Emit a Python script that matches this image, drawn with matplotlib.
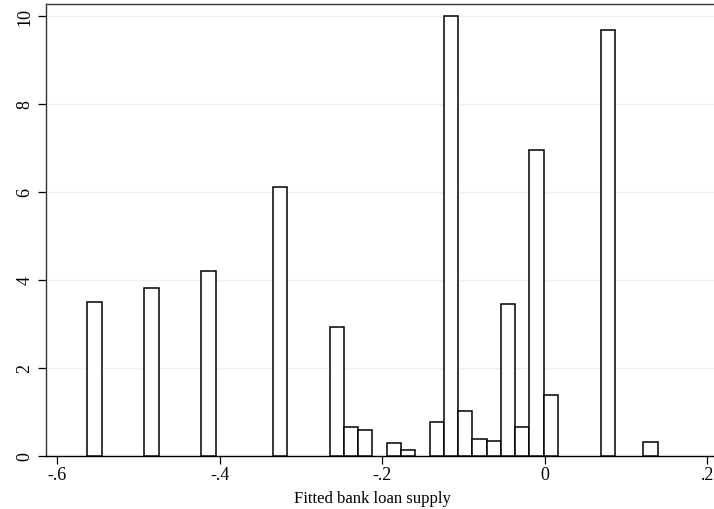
import matplotlib
matplotlib.use("Agg")
import matplotlib.pyplot as plt

# histogram of fitted bank loan supply (non-empty bins only)
bin_width = 0.01755
bin_centers = [-0.5545, -0.4843, -0.4141, -0.3264, -0.2562, -0.2386, -0.2211,
               -0.1860, -0.1684, -0.1333, -0.1158, -0.0982, -0.0807, -0.0631,
               -0.0456, -0.0280, -0.0105, 0.0071, 0.0773, 0.1299]
density = [3.49, 3.81, 4.19, 6.11, 2.93, 0.65, 0.58,
           0.30, 0.13, 0.77, 10.0, 1.02, 0.37, 0.33,
           3.45, 0.65, 6.95, 1.39, 9.675, 0.31]

xticks = [-0.6, -0.4, -0.2, 0, 0.2]
xtick_labels = ["-.6", "-.4", "-.2", "0", ".2"]
yticks = [0, 2, 4, 6, 8, 10]

plt.rcParams['font.family'] = ['Liberation Serif', 'DejaVu Serif']

fig = plt.figure(figsize=(7.14, 5.10), dpi=100)
ax = fig.add_axes([0.064, 0.1045, 0.936, 0.8863])

ax.bar(bin_centers, density, width=bin_width, color="white",
       edgecolor="black", linewidth=1.1, zorder=3)

ax.set_xlim(-0.6145, 0.208)
ax.set_ylim(0, 10.27)
ax.set_xticks(xticks)
ax.set_xticklabels(xtick_labels)
ax.set_yticks(yticks)
ax.set_yticklabels([str(v) for v in yticks], rotation=90, va="center")
ax.tick_params(axis="both", labelsize=13, length=5.5, width=0.9, direction="out")
ax.tick_params(axis="y", pad=3.5)
ax.tick_params(axis="x", pad=2)

ax.grid(axis="y", color="#eaf2f3", linewidth=1.0, zorder=0)
ax.set_axisbelow(True)
for s in ["left", "top", "bottom"]:
    ax.spines[s].set_linewidth(1.0)
    ax.spines[s].set_color("#333333")
ax.spines["right"].set_visible(False)
ax.spines["bottom"].set_color("black")

ax.set_xlabel("Fitted bank loan supply", fontsize=12)
ax.xaxis.set_label_coords(0.489, -0.075)

fig.savefig("out.png", dpi=100)
